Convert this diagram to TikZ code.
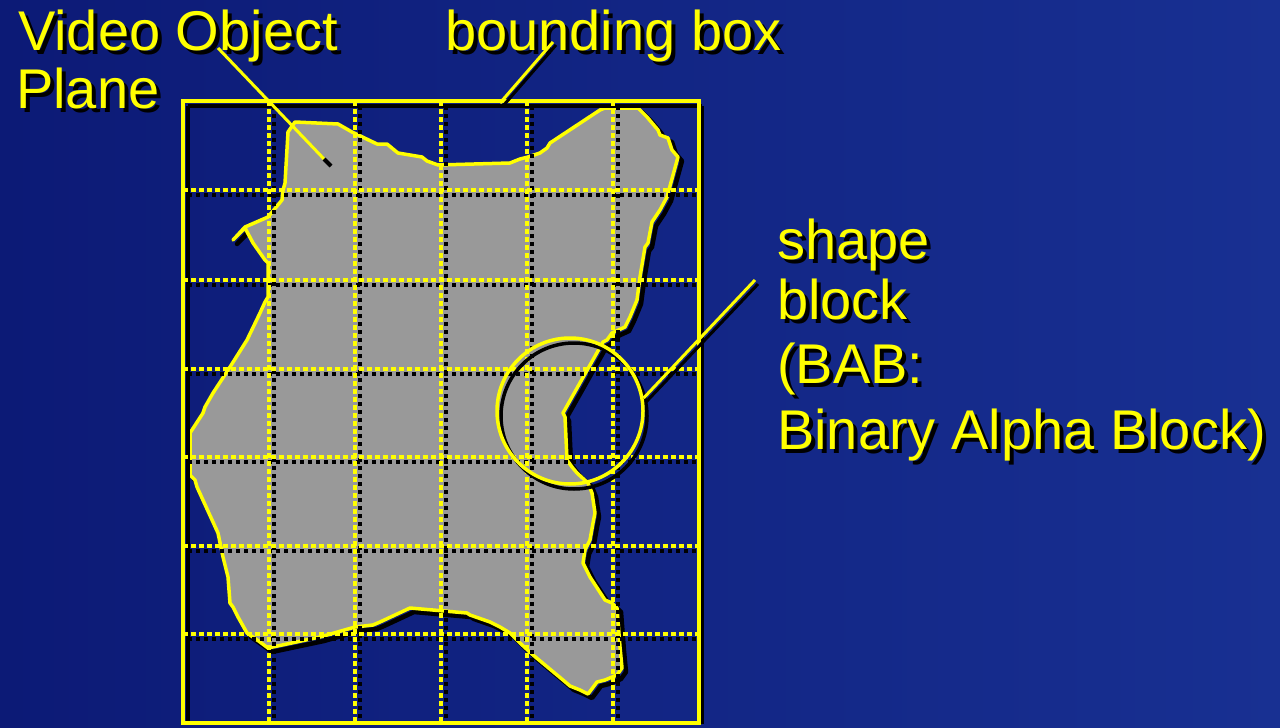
\documentclass[tikz,border=0pt]{standalone}
\usepackage{fontspec}
\setmainfont{Liberation Sans}
\definecolor{bgL}{RGB}{12,26,118}
\definecolor{bgR}{RGB}{24,48,146}
\definecolor{vy}{RGB}{255,255,0}
\definecolor{shapegray}{RGB}{153,153,153}
\newcommand{\shtext}[1]{\makebox[0pt][l]{\kern4pt\raisebox{-4pt}{\color{black}#1}}#1}
\tikzset{
  lbl/.style={anchor=base west, inner sep=0pt, text=vy, font=\fontsize{56}{60}\selectfont},
  gridy/.style={draw=vy, line width=4.5pt, dash pattern=on 5pt off 3pt},
  gridk/.style={draw=black, line width=4.5pt, dash pattern=on 4pt off 4pt},
  outline/.style={draw=vy, line width=3.5pt, line join=round},
  outlinesh/.style={draw=black, line width=4.5pt, line join=round},
  leader/.style={draw=vy, line width=3pt},
  leadersh/.style={draw=black, line width=3pt},
  ring/.style={circle, minimum size=146pt, inner sep=0pt, draw=vy, line width=3.5pt},
  ringsh/.style={ring, draw=black},
}
\def\blob{(295,122) -- (338,124) -- (352,132) -- (377,144) -- (387,144) -- (398,153) -- (422,157) -- (427,161) -- (438,165) -- (510,163) -- (520,159) -- (528,157) -- (540,153) -- (547,148) -- (550,143) -- (600,110) -- (605,108) -- (638,108) -- (647,117) -- (658,130) -- (660,135) -- (668,138) -- (672,150) -- (678,157) -- (667,197) -- (660,210) -- (652,222) -- (648,243) -- (645,247) -- (640,277) -- (637,300) -- (630,317) -- (625,327) -- (612,333) -- (607,340) -- (603,342) -- (563,413) -- (565,417) -- (567,460) -- (572,467) -- (577,473) -- (588,483) -- (592,493) -- (595,513) -- (593,523) -- (590,540) -- (585,550) -- (583,563) -- (590,577) -- (605,600) -- (612,603) -- (617,608) -- (620,647) -- (622,668) -- (617,675) -- (605,680) -- (597,682) -- (588,694) -- (580,690) -- (570,686) -- (563,680) -- (533,655) -- (520,643) -- (510,633) -- (500,627) -- (490,622) -- (470,615) -- (467,613) -- (410,608) -- (380,622) -- (373,625) -- (355,627) -- (320,637) -- (268,648) -- (260,642) -- (247,633) -- (238,617) -- (233,607) -- (230,603) -- (228,577) -- (223,557) -- (218,533) -- (197,487) -- (195,480) -- (190,475) -- (190,433) -- (203,413) -- (205,407) -- (213,393) -- (230,367) -- (247,340) -- (260,313) -- (265,302) -- (268,297) -- (268,263) -- (265,260) -- (253,243) -- (245,228) -- (233,240) -- (245,227) -- (268,217) -- (282,200) -- (283,190) -- (285,183) -- (288,132) -- cycle}
\begin{document}
\begin{tikzpicture}[x=1pt, y=-1pt]
\useasboundingbox (0,0) rectangle (1280,728);
% background
\shade[left color=bgL, right color=bgR] (0,0) rectangle (1280,728);

% shape shadow, fill, outline
\draw[outlinesh, shift={(4,4)}] \blob;
\fill[shapegray] \blob;
\draw[outline] \blob;

% grid shadows
\foreach \x in {269,355,441,527,613} { \draw[gridk] (\x+5,106) -- (\x+5,723); }
\foreach \y in {190,280,369,457,546,634} { \draw[gridk] (188,\y+5) -- (699,\y+5); }
\draw[black, line width=4pt] (188,106) -- (188,724) (188,106) -- (702,106) (702,106) -- (702,724);
% grid yellow
\foreach \x in {269,355,441,527,613} { \draw[gridy] (\x,101) -- (\x,723); }
\foreach \y in {190,280,369,457,546,634} { \draw[gridy] (183,\y) -- (699,\y); }
\draw[vy, line width=4.5pt, line join=miter] (183,101) rectangle (699,723);

% BAB circle
\node[ringsh] (babsh) at (574,416) {};
\node[ring] (bab) at (570,411) {};

% labels (text with drop shadow)
\node[lbl] (vop1) at (18,50) {\shtext{Video Object}};
\node[lbl] (vop2) at (16,108) {\shtext{Plane}};
\node[lbl] (bb)   at (445,50) {\shtext{bounding box}};
\node[lbl] (sb1)  at (777,259) {\shtext{shape}};
\node[lbl] (sb2)  at (777,319) {\shtext{block}};
\node[lbl] (sb3)  at (777,383) {\shtext{(BAB:}};
\node[lbl] (sb4)  at (777,449) {\shtext{Binary Alpha Block)}};

% leaders
\coordinate (vopA) at (218,48);
\coordinate (vopB) at (324,159);
\coordinate (vopC) at (331,166);
\draw[leader] (vopA) -- (vopB);
\draw[black, line width=4pt] (vopB) -- (vopC);

\coordinate (bbA) at (553,42);
\coordinate (bbB) at (500,103);
\coordinate (bbAs) at (556,45);
\coordinate (bbBs) at (503,106);
\draw[leadersh] (bbAs) -- (bbBs);
\draw[leader] (bbA) -- (bbB);

\coordinate (sbA) at (755,280);
\coordinate (sbAs) at (758,284);
\coordinate (sbBs) at (646,402);
\draw[leadersh] (sbAs) -- (sbBs);
\draw[leader] (sbA) -- (bab.10);
\end{tikzpicture}
\end{document}
